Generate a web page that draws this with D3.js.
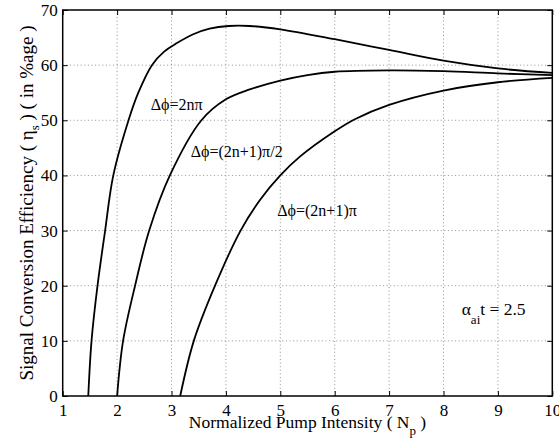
<!DOCTYPE html>
<html>
<head>
<meta charset="utf-8">
<script src="https://cdn.jsdelivr.net/npm/d3@7"></script>
<style>
  html, body { margin: 0; padding: 0; background: #fff; }
  svg { display: block; }
  svg text { font-family: "Liberation Serif", "Times New Roman", serif; }
</style>
</head>
<body>
<svg id="chart" width="559" height="447"></svg>
<script>
// Normalized pump intensity N_p and signal conversion efficiency (%) for each phase condition
const phase2npiN   = [1.47, 1.53, 1.64, 1.78, 1.93, 2.21, 2.39, 2.64, 2.87, 3.1, 3.4, 3.7, 4.05, 4.44, 5, 6, 7, 8, 9, 10];
const phase2npiEta = [0, 10, 20, 30, 40, 50, 55, 60, 62.5, 64, 65.6, 66.6, 67.1, 67.1, 66.5, 64.7, 62.75, 60.8, 59.4, 58.6];

const phaseHalfN   = [2.0, 2.11, 2.33, 2.59, 2.97, 3.55, 4.0, 4.44, 5, 5.5, 6, 7, 8, 9, 10];
const phaseHalfEta = [0, 10, 20, 30, 40, 50, 53.8, 55.6, 57.2, 58.2, 58.8, 59.05, 58.9, 58.5, 58.2];

const phasePiN   = [3.16, 3.41, 3.8, 4.27, 4.63, 5.0, 5.36, 6.0, 6.37, 7, 8, 9, 10];
const phasePiEta = [0, 10, 20, 30, 35.6, 40.0, 43.4, 48.0, 50.2, 52.8, 55.4, 56.9, 57.7];

const xTicks = [1, 2, 3, 4, 5, 6, 7, 8, 9, 10];
const yTicks = [0, 10, 20, 30, 40, 50, 60, 70];

const svg = d3.select("#chart");
const W = 559, H = 447;
const margin = { left: 62.7, right: W - 552.3, top: 10, bottom: H - 396 };
const serif = "Liberation Serif";

const x = d3.scaleLinear().domain([1, 10]).range([margin.left, W - margin.right]);
const y = d3.scaleLinear().domain([0, 70]).range([H - margin.bottom, margin.top]);

// dotted grid
const grid = svg.append("g").attr("stroke", "#777").attr("stroke-width", 0.8)
  .attr("stroke-dasharray", "1,2.6");
grid.selectAll("line.gx").data(xTicks.slice(1, -1)).join("line")
  .attr("x1", d => x(d)).attr("x2", d => x(d))
  .attr("y1", y(0)).attr("y2", y(70));
grid.selectAll("line.gy").data(yTicks.slice(1, -1)).join("line")
  .attr("x1", x(1)).attr("x2", x(10))
  .attr("y1", d => y(d)).attr("y2", d => y(d));

// efficiency curves
const line = d3.line().x(d => x(d[0])).y(d => y(d[1])).curve(d3.curveCatmullRom.alpha(0.5));
const series = [
  [phase2npiN, phase2npiEta],
  [phaseHalfN, phaseHalfEta],
  [phasePiN, phasePiEta]
];
svg.append("g").selectAll("path").data(series).join("path")
  .attr("d", s => line(s[0].map((n, i) => [n, s[1][i]])))
  .attr("fill", "none").attr("stroke", "#000").attr("stroke-width", 1.8);

// axes with inward ticks on all four sides
const tick = 5;
const axB = svg.append("g").attr("transform", `translate(0,${y(0)})`)
  .call(d3.axisBottom(x).tickValues(xTicks).tickSizeInner(-tick).tickSizeOuter(0).tickPadding(8));
const axT = svg.append("g").attr("transform", `translate(0,${y(70)})`)
  .call(d3.axisTop(x).tickValues(xTicks).tickSizeInner(-tick).tickSizeOuter(0).tickFormat(""));
const axL = svg.append("g").attr("transform", `translate(${x(1)},0)`)
  .call(d3.axisLeft(y).tickValues(yTicks).tickSizeInner(-tick).tickSizeOuter(0).tickPadding(5));
const axR = svg.append("g").attr("transform", `translate(${x(10)},0)`)
  .call(d3.axisRight(y).tickValues(yTicks).tickSizeInner(-tick).tickSizeOuter(0).tickFormat(""));

[axB, axT, axL, axR].forEach(a => {
  a.attr("font-family", serif).attr("font-size", 17);
  a.select(".domain").remove();
  a.selectAll(".tick line").attr("stroke", "#000").attr("stroke-width", 1);
  a.selectAll("text").attr("fill", "#000");
});
axB.selectAll("text").attr("dy", "0.71em");

// frame
svg.append("rect")
  .attr("x", x(1)).attr("y", y(70))
  .attr("width", x(10) - x(1)).attr("height", y(0) - y(70))
  .attr("fill", "none").attr("stroke", "#000").attr("stroke-width", 1.5);

// axis titles
const xt = svg.append("text").attr("x", (x(1) + x(10)) / 2).attr("y", 427.5)
  .attr("text-anchor", "middle").attr("font-family", serif).attr("font-size", 17.5);
xt.append("tspan").text("Normalized Pump Intensity ( N");
xt.append("tspan").attr("font-size", 13).attr("dy", 7).text("p");
xt.append("tspan").attr("dy", -7).text(" )");

const yt = svg.append("text")
  .attr("transform", `translate(33,${(y(0) + y(70)) / 2}) rotate(-90)`)
  .attr("text-anchor", "middle").attr("font-family", serif).attr("font-size", 19);
yt.append("tspan").text("Signal Conversion Efficiency ( η");
yt.append("tspan").attr("font-size", 13).attr("dy", 6).text("s");
yt.append("tspan").attr("dy", -6).text(" ) ( in %age )");

// curve annotations
const ann = svg.append("g").attr("font-family", serif).attr("font-size", 16).attr("fill", "#000");
ann.append("text").attr("x", 150.7).attr("y", 110).text("Δϕ=2nπ");
ann.append("text").attr("x", 190.7).attr("y", 157.3).text("Δϕ=(2n+1)π/2");
ann.append("text").attr("x", 277.3).attr("y", 216).text("Δϕ=(2n+1)π");

const al = svg.append("text").attr("x", 461.7).attr("y", 315)
  .attr("font-family", serif).attr("font-size", 17.5);
al.append("tspan").text("α");
al.append("tspan").attr("font-size", 13).attr("dy", 9).text("ai");
al.append("tspan").attr("dy", -9).text("t = 2.5");
</script>
</body>
</html>
